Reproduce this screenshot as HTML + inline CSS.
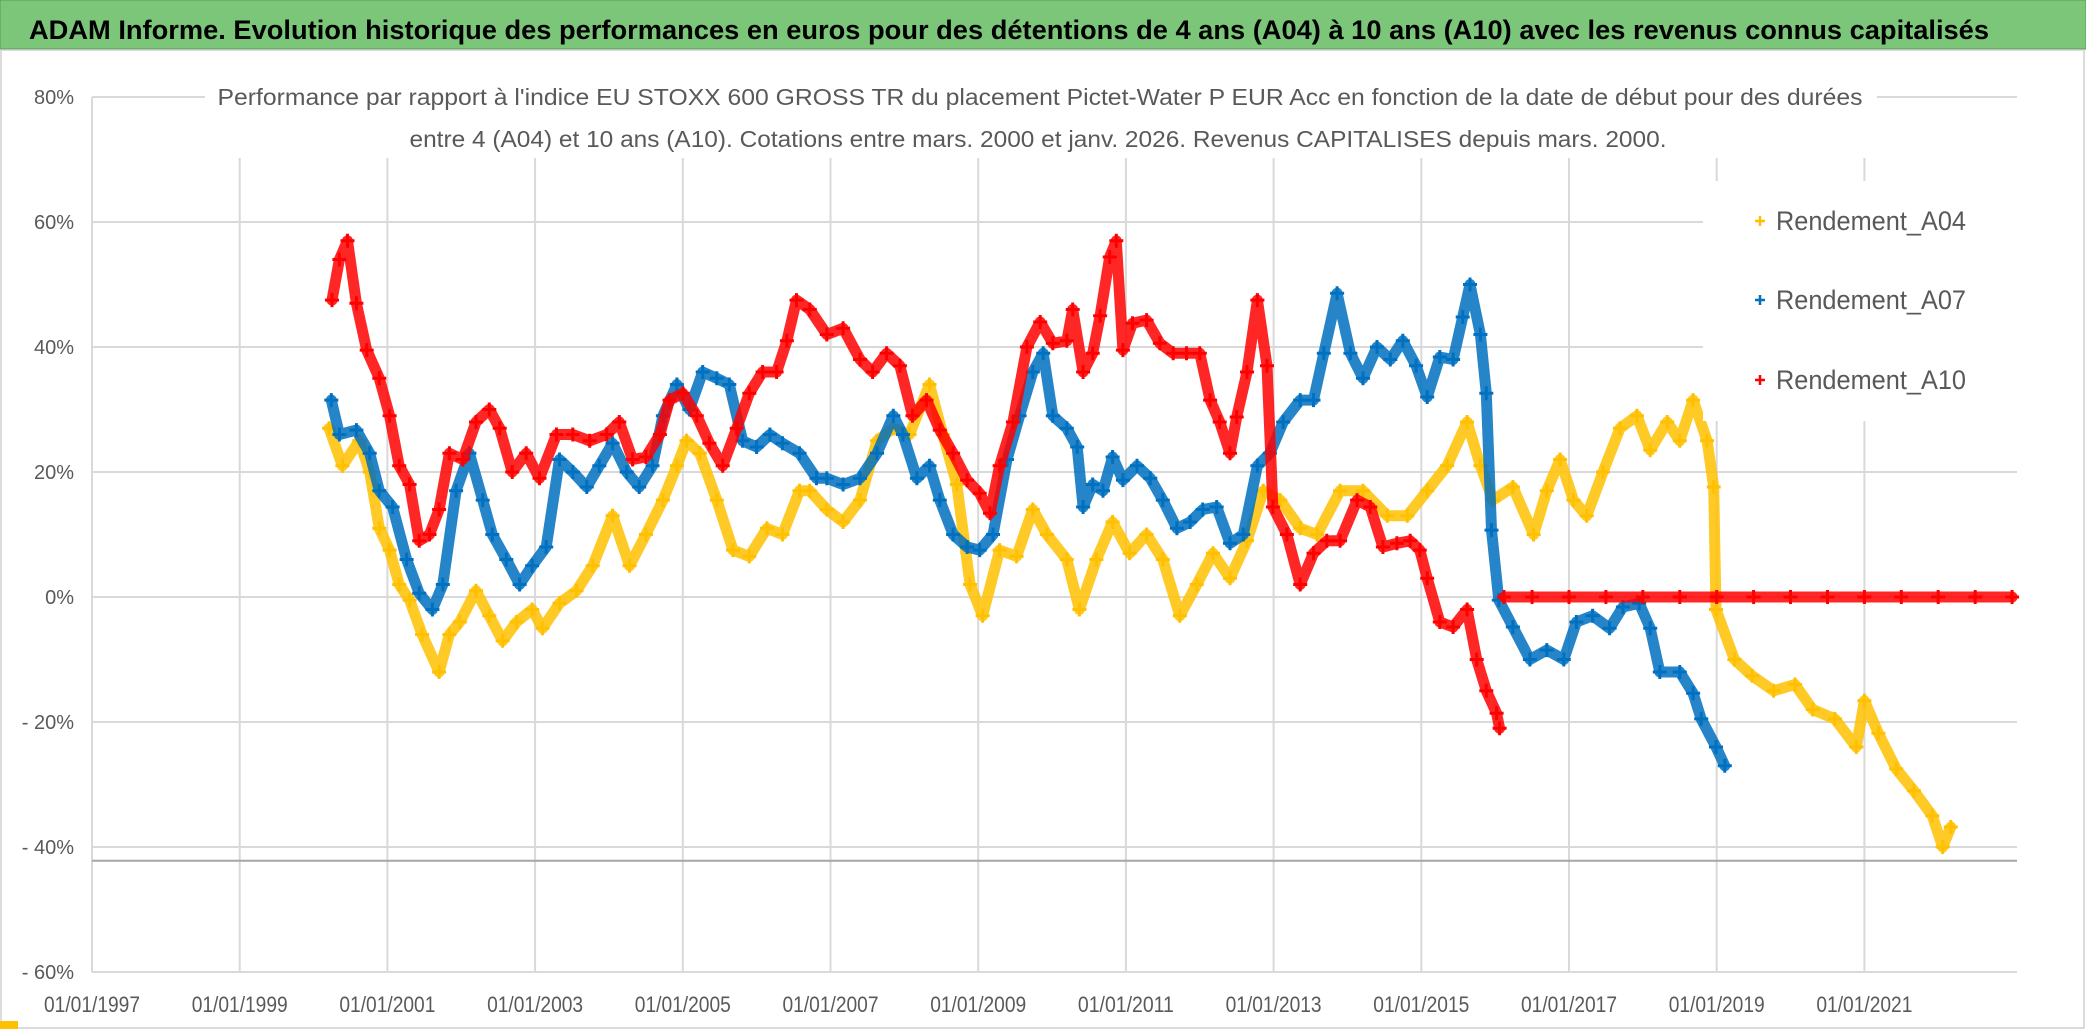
<!DOCTYPE html>
<html><head><meta charset="utf-8">
<style>
html,body{margin:0;padding:0;background:#fff;}
svg{display:block;}
text{font-family:"Liberation Sans Narrow","Liberation Sans",sans-serif;}
</style></head>
<body>
<svg id="chart" width="2086" height="1031" viewBox="0 0 2086 1031" xmlns="http://www.w3.org/2000/svg">
  <rect x="0" y="0" width="2086" height="1031" fill="#ffffff"/>
  <rect x="0" y="0" width="2086" height="49" fill="#7CC67A" stroke="#5a9a58" stroke-width="1"/>
  <text x="29" y="39" font-size="27" font-weight="bold" fill="#000" textLength="1960" lengthAdjust="spacingAndGlyphs">ADAM Informe. Evolution historique des performances en euros pour des détentions de 4 ans (A04) à 10 ans (A10) avec les revenus connus capitalisés</text>
  <rect x="1" y="50" width="2083" height="978" fill="none" stroke="#d0d0d0" stroke-width="1.5"/>
  <rect x="0" y="1021" width="18" height="8" fill="#FFC000"/>
  <g id="grid"></g>
  <g id="axes"></g>
  <g id="series"></g>
  <rect x="205" y="78" width="1672" height="80" fill="#fff"/>
  <text x="1040" y="105" font-size="23" fill="#595959" text-anchor="middle" textLength="1645" lengthAdjust="spacingAndGlyphs">Performance par rapport à l'indice EU STOXX 600 GROSS TR  du placement Pictet-Water P EUR Acc en fonction de la date de début pour des durées</text>
  <text x="1038" y="147" font-size="23" fill="#595959" text-anchor="middle" textLength="1257" lengthAdjust="spacingAndGlyphs">entre 4 (A04) et 10 ans (A10). Cotations entre mars. 2000 et janv. 2026. Revenus CAPITALISES depuis mars. 2000.</text>
  <g id="legend"></g>
</svg>
<script>
const xTickYears = [1997,1999,2001,2003,2005,2007,2009,2011,2013,2015,2017,2019,2021];
const xTickLabels = ["01/01/1997","01/01/1999","01/01/2001","01/01/2003","01/01/2005","01/01/2007","01/01/2009","01/01/2011","01/01/2013","01/01/2015","01/01/2017","01/01/2019","01/01/2021"];
const yTicks = [80,60,40,20,0,-20,-40,-60];
const yTickLabels = ["80%","60%","40%","20%","0%","- 20%","- 40%","- 60%"];
const seriesNames = ["Rendement_A04","Rendement_A07","Rendement_A10"];

const a04Dates = [2000.21,2000.39,2000.62,2000.76,2000.89,2001.03,2001.16,2001.3,2001.47,2001.7,2001.84,2001.98,2002.2,2002.38,2002.56,2002.75,2002.96,2003.1,2003.33,2003.56,2003.78,2004.05,2004.28,2004.5,2004.73,2004.92,2005.05,2005.23,2005.46,2005.68,2005.9,2006.14,2006.35,2006.58,2006.72,2006.95,2007.17,2007.4,2007.63,2007.85,2008.07,2008.34,2008.52,2008.71,2008.89,2009.06,2009.29,2009.52,2009.74,2009.93,2010.2,2010.37,2010.6,2010.82,2011.05,2011.28,2011.5,2011.73,2011.96,2012.18,2012.41,2012.64,2012.86,2013.09,2013.36,2013.59,2013.9,2014.21,2014.54,2014.81,2015.08,2015.35,2015.62,2015.8,2015.97,2016.24,2016.52,2016.7,2016.88,2017.06,2017.24,2017.46,2017.69,2017.92,2018.1,2018.33,2018.5,2018.68,2018.87,2018.96,2018.99,2019.24,2019.48,2019.77,2020.06,2020.3,2020.6,2020.89,2021.0,2021.19,2021.43,2021.67,2021.92,2022.06,2022.17];
const a04Values = [27,21,25,20,11,7.5,2,-0.5,-6,-12,-6,-4,1,-3,-7,-4,-2,-5,-1,1,5,13,5,10,15.5,21,25,23,15.5,7.5,6.5,11,10,17,17,14,12,15.5,25,27,26,34,26,18,2,-3,7.5,6.5,14,10,6,-2,6,12,7,10,6,-3,2,7,3,9,17,15.5,11,10,17,17,13,13,17,21,28,21,15.5,17.6,10,17,22,15.5,13,20,27,29,23.5,28,25,31.5,25,17.6,-2,-10,-12.6,-15,-14,-18,-19.5,-24,-16.6,-21.8,-27.5,-31,-35,-40,-36.8];

const a07Dates = [2000.24,2000.35,2000.58,2000.76,2000.89,2001.07,2001.26,2001.43,2001.61,2001.75,2001.93,2002.11,2002.29,2002.42,2002.61,2002.79,2002.96,2003.15,2003.33,2003.51,2003.7,2003.87,2004.05,2004.24,2004.41,2004.59,2004.73,2004.92,2005.09,2005.27,2005.46,2005.63,2005.81,2006.0,2006.18,2006.35,2006.58,2006.81,2006.95,2007.17,2007.4,2007.63,2007.85,2007.98,2008.17,2008.34,2008.48,2008.66,2008.85,2009.02,2009.2,2009.39,2009.56,2009.74,2009.88,2010.01,2010.2,2010.34,2010.42,2010.55,2010.69,2010.82,2010.96,2011.15,2011.33,2011.5,2011.69,2011.87,2012.04,2012.23,2012.41,2012.59,2012.78,2012.95,2013.13,2013.36,2013.54,2013.68,2013.86,2014.04,2014.21,2014.4,2014.58,2014.75,2014.93,2015.08,2015.25,2015.43,2015.56,2015.66,2015.8,2015.88,2015.95,2016.05,2016.24,2016.47,2016.7,2016.93,2017.1,2017.32,2017.55,2017.73,2017.95,2018.1,2018.23,2018.5,2018.68,2018.79,2018.99,2019.11];
const a07Values = [31.5,26,26.7,23,17,14.4,6,0.6,-2,2,17,23,15.5,10,6,2,5,8,22,20,17.6,21,24.6,20,17.6,21,29,34,30,36,35,34,25,24,26,24.6,23,19,19,18,19,23,29,26,19,21,15.5,10,8,7.5,10,22,29,36,39,29,27,24,14.4,18,17,22.4,18.7,21,19,15.5,11,12,14,14.4,8.6,10,21,23,28,31.5,31.5,39,48.6,39,35,40,38,41,37,32,38.4,38,44.8,50,42,32.6,10.7,-0.5,-4.8,-10,-8.5,-10,-4,-3,-5,-1.6,-1,-5,-12,-12,-15.4,-19.5,-24,-27];

const a10Dates = [2000.25,2000.35,2000.46,2000.58,2000.72,2000.89,2001.03,2001.16,2001.3,2001.43,2001.57,2001.7,2001.84,2002.02,2002.2,2002.38,2002.52,2002.69,2002.88,2003.06,2003.29,2003.51,2003.74,2003.97,2004.14,2004.32,2004.5,2004.69,2004.82,2005.0,2005.19,2005.36,2005.54,2005.73,2005.9,2006.08,2006.27,2006.41,2006.54,2006.72,2006.95,2007.17,2007.4,2007.57,2007.76,2007.94,2008.11,2008.3,2008.48,2008.66,2008.85,2009.02,2009.16,2009.29,2009.47,2009.66,2009.84,2010.01,2010.2,2010.28,2010.42,2010.55,2010.65,2010.78,2010.87,2010.96,2011.09,2011.28,2011.46,2011.64,2011.82,2012.0,2012.14,2012.27,2012.41,2012.5,2012.64,2012.78,2012.91,2012.99,2013.18,2013.36,2013.54,2013.72,2013.9,2014.13,2014.31,2014.48,2014.67,2014.85,2014.98,2015.08,2015.25,2015.43,2015.62,2015.75,2015.88,2016.02,2016.06,2016.12,2016.5,2017.0,2017.5,2018.0,2018.5,2019.0,2019.5,2020.0,2020.5,2021.0,2021.5,2022.0,2022.5,2023.0];
const a10Values = [47.5,54,57,47,39.5,35,29,21,18,9,10,14,23,22,28,30,27,20,23,19,26,26,25,26,28,22,22.4,26,31.5,32.6,29,24.6,21,27,32.6,36,36,41,47.5,46,42,43,38,36,39,37,29,31.5,26.7,23,18.7,16.6,13.4,21,28,40,44,40.6,41,46,36,39,45,54.4,57,39.5,43.8,44.3,40.6,39,39,39,31.5,28,23,28.8,36,47.5,37,14.4,10,2,7,9,9,15.5,14.4,8,8.6,9,7.5,3,-4,-4.8,-2,-10,-15,-18.6,-21,0,0,0,0,0,0,0,0,0,0,0,0,0,0,0];

const X0 = 92, PXYEAR = 73.85, Y0 = 597, PXPCT = 6.25;
const xScale = yr => X0 + (yr - 1997) * PXYEAR;
const yScale = v => Y0 - v * PXPCT;
const XMAX = 2017, YTOP = yScale(80), YBOT = yScale(-60);
const NS = "http://www.w3.org/2000/svg";
function mk(tag, attrs, parent) {
  const e = document.createElementNS(NS, tag);
  for (const k in attrs) e.setAttribute(k, attrs[k]);
  parent.appendChild(e);
  return e;
}
const grid = document.getElementById('grid');
const axes = document.getElementById('axes');
yTicks.forEach((t, i) => {
  const l = mk('line', {x1: X0, x2: XMAX, y1: yScale(t), y2: yScale(t), stroke: '#d9d9d9', 'stroke-width': 2}, grid);
  
  
  const tx = mk('text', {x: 74, y: yScale(t) + 7, 'font-size': 20, fill: '#595959', 'text-anchor': 'end'}, axes);
  tx.textContent = yTickLabels[i];
  
  
});
xTickYears.forEach((yr, i) => {
  const l = mk('line', {x1: xScale(yr), x2: xScale(yr), y1: YTOP, y2: YBOT, stroke: '#d9d9d9', 'stroke-width': 2}, grid);
  
  
  const tx = mk('text', {x: xScale(yr), y: 1012, 'font-size': 22, fill: '#595959', 'text-anchor': 'middle', textLength: 96, lengthAdjust: 'spacingAndGlyphs'}, axes);
  tx.textContent = xTickLabels[i];
  
  
});
const ref = mk('line', {x1: X0, x2: XMAX, y1: yScale(-42.2), y2: yScale(-42.2), stroke: '#a6a6a6', 'stroke-width': 2}, grid);



const seriesLayer = document.getElementById('series');
const colors = ['#FFC000', '#0070C0', '#FF0000'];
const allDates = [a04Dates, a07Dates, a10Dates];
const allValues = [a04Values, a07Values, a10Values];
allDates.forEach((dates, s) => {
  const vals = allValues[s];
  const g = mk('g', {}, seriesLayer);
  
  
  let pd = '';
  dates.forEach((dt, i) => {
    const x = xScale(dt).toFixed(1), y = yScale(vals[i]).toFixed(1);
    const brk = i === 0 || (vals[i] === 0 && Math.abs(vals[i-1]) > 15);
    pd += (brk ? 'M' : 'L') + x + ' ' + y;
  });
  const pl = mk('path', {d: pd, fill: 'none', stroke: colors[s], 'stroke-width': 11, 'stroke-linejoin': 'round', 'stroke-linecap': 'round', opacity: 0.85}, g);
  
  
  let d = '';
  dates.forEach((dt, i) => {
    const x = xScale(dt), y = yScale(vals[i]);
    d += `M${(x-7).toFixed(1)} ${y.toFixed(1)}h14M${x.toFixed(1)} ${(y-7).toFixed(1)}v14`;
  });
  const mp = mk('path', {d: d, stroke: colors[s], 'stroke-width': 3, fill: 'none'}, g);
  
  
});

const legend = document.getElementById('legend');
const lb = mk('rect', {x: 1703, y: 181, width: 320, height: 240, fill: '#fff'}, legend);


const legendY = [221, 300, 380];
seriesNames.forEach((n, i) => {
  const y = legendY[i];
  const mkp = mk('path', {d: `M1755 ${y}h10M1760 ${y-5}v10`, stroke: colors[i], 'stroke-width': 2.5}, legend);
  
  
  const t = mk('text', {x: 1776, y: y + 9, 'font-size': 27, fill: '#595959', textLength: 190, lengthAdjust: 'spacingAndGlyphs'}, legend);
  t.textContent = n;
  
  
});
</script>
</body></html>
